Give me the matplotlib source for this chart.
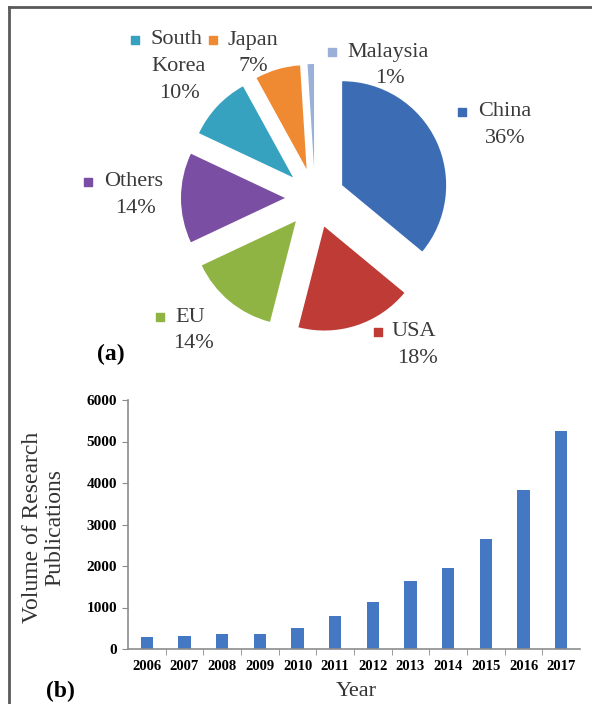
import matplotlib
matplotlib.use('Agg')
import matplotlib.pyplot as plt
from matplotlib.lines import Line2D

plt.rcParams['font.family'] = ['Liberation Serif', 'DejaVu Serif']

# (a) share of publications by country
countries = ['China', 'USA', 'EU', 'Others', 'South\nKorea', 'Japan', 'Malaysia']
shares = [36, 18, 14, 14, 10, 7, 1]
pie_colors = ['#3C6DB4', '#BE3B36', '#8FB443', '#7A4EA3', '#36A2C0', '#F08A32', '#9AB0D8']

# (b) publications per year
years = ['2006', '2007', '2008', '2009', '2010', '2011',
         '2012', '2013', '2014', '2015', '2016', '2017']
pubs = [290, 305, 370, 370, 505, 800, 1140, 1650, 1940, 2645, 3840, 5245]

W, H = 592, 704
fig = plt.figure(figsize=(W / 100, H / 100), dpi=100)

# full-page axes in pixel units (y measured from the top)
ax0 = fig.add_axes([0, 0, 1, 1])
def py(y):
    return H - y

# explode is in data units here (pixels)
ax0.pie(shares, colors=pie_colors, startangle=90, counterclock=False,
        explode=[30] * len(shares), center=(315, py(198)), radius=104,
        wedgeprops=dict(linewidth=0), frame=True)
ax0.set_xlim(0, W)
ax0.set_ylim(0, H)
ax0.set_aspect('equal')
ax0.axis('off')

# label layout: marker x, first line y, first line left x, centre x of other lines
label_pos = {
    'China': (462, 112, 478, 505),
    'USA': (378, 332, 392, 417),
    'EU': (160, 317, 175, 193),
    'Others': (88, 182, 104, 135),
    'South\nKorea': (135, 40, 150, 179),
    'Japan': (213, 40, 228, 253),
    'Malaysia': (332, 52, 347, 390),
}
line_h = 26.5
txt_col = '#3a3a3a'
for name, val, col in zip(countries, shares, pie_colors):
    mx, y0, tx, cx = label_pos[name]
    lines = name.split('\n') + [f'{val}%']
    ax0.scatter([mx], [py(y0)], marker='s', s=26, color=col, zorder=5)
    ax0.text(tx, py(y0), lines[0], ha='left', va='center', fontsize=16, color=txt_col)
    for i, ln in enumerate(lines[1:], start=1):
        ax0.text(cx, py(y0 + i * line_h), ln, ha='center', va='center',
                 fontsize=16, color=txt_col)

ax0.text(111, py(354), '(a)', ha='center', va='center', fontsize=17, fontweight='bold')
ax0.text(60, py(691), '(b)', ha='center', va='center', fontsize=17, fontweight='bold')

# outer frame (top and left edges)
fig.add_artist(Line2D([9 / W, 1], [1 - 7 / H, 1 - 7 / H], color='#5a5a5a', lw=2))
fig.add_artist(Line2D([9 / W, 9 / W], [1 - 7 / H, 0], color='#5a5a5a', lw=2))

# bar chart
ax = fig.add_axes([128 / W, 1 - 649 / H, (580 - 128) / W, (649 - 400) / H])
x = list(range(len(years)))
ax.bar(x, pubs, width=0.32, color='#4478C2')
ax.set_xlim(-0.5, len(years) - 0.5)
ax.set_ylim(0, 6000)
ax.set_yticks(range(0, 6001, 1000))
ax.set_xticks(x)
ax.set_xticklabels(years)
ax.set_xticks([i + 0.5 for i in x[:-1]], minor=True)
for s in ['top', 'right']:
    ax.spines[s].set_visible(False)
for s in ['left', 'bottom']:
    ax.spines[s].set_color('#8c8c8c')
    ax.spines[s].set_linewidth(1.2)
ax.tick_params(axis='y', length=4, color='#8c8c8c', labelsize=11, pad=4)
ax.tick_params(axis='x', which='major', length=0, labelsize=10.5, pad=8)
ax.tick_params(axis='x', which='minor', length=4, color='#8c8c8c')
for lab in ax.get_xticklabels() + ax.get_yticklabels():
    lab.set_fontweight('bold')

fig.text(44 / W, 1 - 527 / H, 'Volume of Research\nPublications', rotation=90,
         ha='center', va='center', multialignment='center', fontsize=17,
         linespacing=1.1, color='#333333')
fig.text(356 / W, 1 - 692 / H, 'Year', ha='center', va='center', fontsize=16,
         color='#333333')

fig.savefig('out.png', dpi=100, facecolor='white')
